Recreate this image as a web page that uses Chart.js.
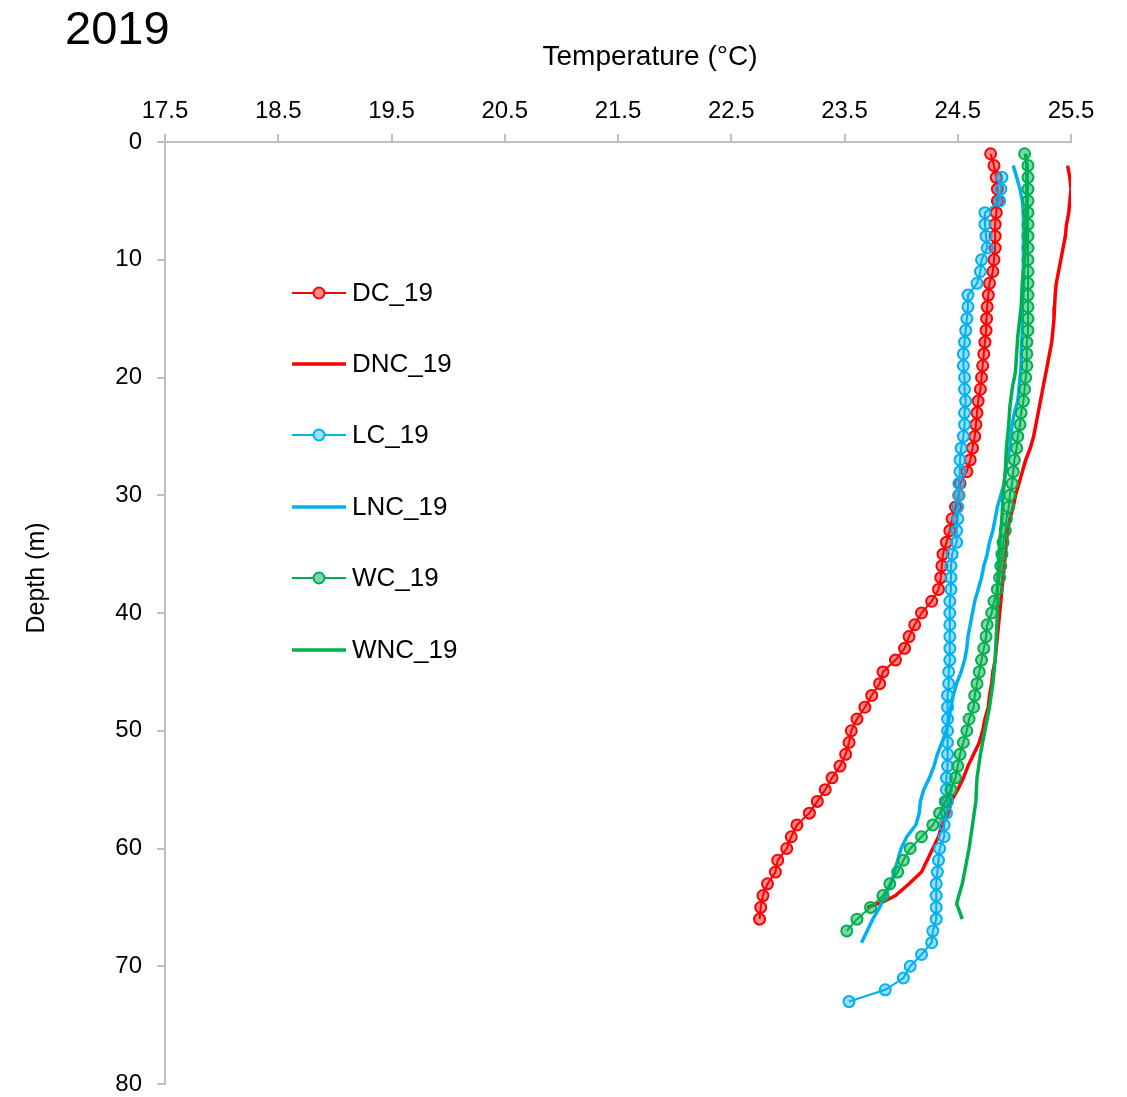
<!DOCTYPE html>
<html>
<head>
<meta charset="utf-8">
<script src="https://cdn.jsdelivr.net/npm/chart.js@4.4.1/dist/chart.umd.min.js"></script>
<style>
    html, body { margin: 0; padding: 0; background: #fff; }
    #wrap { width: 1127px; height: 1097px; }
</style>
</head>
<body>
<div id="wrap"><canvas id="chart-2019" width="1127" height="1097"></canvas></div>
<script>
// tick values
var temp_ticks = [17.5, 18.5, 19.5, 20.5, 21.5, 22.5, 23.5, 24.5, 25.5];
var depth_ticks = [0, 10, 20, 30, 40, 50, 60, 70, 80];
var series_names = ['DC_19', 'DNC_19', 'LC_19', 'LNC_19', 'WC_19', 'WNC_19'];

// DC_19 (markers)
var dc_depth = [1,2,3,4,5,6,7,8,9,10,11,12,13,14,15,16,17,18,19,20,21,22,23,24,25,26,27,28,29,30,31,32,33,34,35,36,37,38,39,40,41,42,43,44,45,46,47,48,49,50,51,52,53,54,55,56,57,58,59,60,61,62,63,64,65,66];
var dc_temp = [24.79,24.82,24.84,24.85,24.85,24.84,24.83,24.83,24.83,24.82,
    24.81,24.78,24.77,24.76,24.755,24.75,24.74,24.73,24.72,24.71,
    24.70,24.68,24.67,24.66,24.65,24.63,24.61,24.58,24.52,24.51,
    24.48,24.45,24.43,24.40,24.37,24.36,24.35,24.33,24.27,24.18,
    24.12,24.07,24.03,23.95,23.84,23.81,23.74,23.68,23.61,23.56,
    23.54,23.51,23.46,23.39,23.33,23.26,23.19,23.08,23.03,22.99,
    22.91,22.89,22.82,22.78,22.76,22.75];

// DNC_19 (line only)
var dnc_depth = [2,3,4,5,6,7,8,9,10,11,12,13,14,15,16,17,18,19,20,21,22,23,24,25,26,27,28,29,30,31,32,33,34,35,36,37,38,39,40,41,42,43,44,45,46,47,48,49,50,51,52,53,54,55,56,57,58,59,60,61,62,63,64,64.5,65];
var dnc_temp = [25.47,25.49,25.50,25.49,25.48,25.46,25.45,25.43,25.41,
    25.39,25.37,25.36,25.355,25.35,25.34,25.33,25.31,25.29,25.27,
    25.25,25.23,25.21,25.19,25.17,25.14,25.10,25.07,25.04,25.01,
    24.99,24.96,24.94,24.93,24.92,24.91,24.90,24.89,24.88,24.87,
    24.86,24.85,24.84,24.83,24.81,24.80,24.78,24.77,24.74,24.72,
    24.69,24.64,24.59,24.55,24.50,24.44,24.42,24.36,24.33,24.28,
    24.23,24.18,24.07,23.95,23.85,23.70];

// LC_19 (markers)
var lc_depth = [3,4,5,6,7,8,9,10,11,12,13,14,15,16,17,18,19,20,21,22,23,24,25,26,27,28,29,30,31,32,33,34,35,36,37,38,39,40,41,42,43,44,45,46,47,48,49,50,51,52,53,54,55,56,57,58,59,60,61,62,63,64,65,66,67,68,69,70,71,72,73];
var lc_temp = [24.89,24.88,24.87,
    24.74,24.74,24.75,24.76,24.71,24.70,24.67,
    24.59,24.59,24.58,24.57,24.56,24.55,24.55,24.56,
    24.56,24.57,24.56,24.56,24.55,24.53,24.52,24.52,24.51,24.51,
    24.50,24.50,24.49,24.49,24.45,24.44,24.44,24.44,24.43,24.43,
    24.43,24.43,24.43,24.43,24.42,24.42,24.41,24.41,24.41,24.41,
    24.41,24.41,24.41,24.40,24.40,24.41,24.40,24.38,24.38,24.34,
    24.33,24.32,24.31,24.31,24.31,24.31,24.28,24.27,24.18,24.08,
    24.02,23.86,23.54];

// LNC_19 (line only)
var lnc_depth = [2,3,4,5,6,8,10,12,14,16,18,19,20,21,22,23,24,25,26,27,28,29,30,31,32,33,34,35,36,37,38,39,40,41,42,43,44,45,46,47,48,49,50,51,52,53,54,55,56,57,58,59,60,61,62,63,64,65,66,67,68];
var lnc_temp = [24.99,25.02,25.05,25.07,25.08,25.08,25.08,25.08,25.07,25.07,
    25.06,25.06,25.05,25.04,25.03,25.00,24.98,24.97,24.96,24.94,
    24.92,24.91,24.88,24.85,24.83,24.81,24.78,24.76,24.73,24.71,
    24.68,24.65,24.63,24.61,24.59,24.58,24.56,24.53,24.49,24.46,
    24.44,24.42,24.40,24.36,24.32,24.29,24.25,24.20,24.17,24.16,
    24.13,24.05,24.00,23.97,23.94,23.91,23.86,23.81,23.75,23.70,
    23.65];

// WC_19 (markers)
var wc_depth = [1,2,3,4,5,6,7,8,9,10,11,12,13,14,15,16,17,18,19,20,21,22,23,24,25,26,27,28,29,30,31,32,33,34,35,36,37,38,39,40,41,42,43,44,45,46,47,48,49,50,51,52,53,54,55,56,57,58,59,60,61,62,63,64,65,66,67];
var wc_temp = [25.09,25.12,25.12,25.12,25.12,25.12,25.12,25.12,25.12,25.12,
    25.12,25.12,25.12,25.12,25.12,25.12,25.11,25.11,25.11,25.10,
    25.09,25.08,25.06,25.05,25.03,25.02,25.00,24.99,24.98,24.96,
    24.95,24.93,24.92,24.90,24.89,24.88,24.87,24.85,24.82,24.80,
    24.76,24.75,24.73,24.71,24.69,24.67,24.65,24.64,24.60,24.58,
    24.55,24.52,24.50,24.48,24.44,24.39,24.34,24.28,24.18,24.08,
    24.02,23.97,23.90,23.84,23.73,23.61,23.52];

// WNC_19 (line only)
var wnc_depth = [1,2,4,6,8,10,11,12,14,16.5,18,19.5,21,22.5,24,26,28,30,32,34,36,38,40,42,44,46,48,50,51,52,54,56,58,60,61,62,63,64,64.7,65.2,66];
var wnc_temp = [25.10,25.11,25.11,25.11,25.10,25.09,25.08,25.07,25.06,25.03,
    25.02,25.01,24.98,24.96,24.95,24.93,24.92,24.90,24.89,24.87,
    24.86,24.85,24.85,24.84,24.83,24.81,24.78,24.74,24.72,24.70,
    24.67,24.66,24.63,24.60,24.58,24.56,24.54,24.51,24.49,24.51,
    24.54];

const FONT = "'Liberation Sans', Arial, sans-serif";

const to_points = (temps, depths) => temps.map((t, i) => ({ x: t, y: depths[i] }));

const make_set = (name, temps, depths, color, fill, markers, order) => {
    return {
        label: name,
        data: to_points(temps, depths),
        showLine: true,
        borderColor: color,
        backgroundColor: fill,
        borderWidth: markers ? 2 : 3.5,
        pointRadius: markers ? 5.5 : 0,
        pointHoverRadius: markers ? 5.5 : 0,
        pointBorderWidth: 2,
        pointBorderColor: color,
        pointBackgroundColor: fill,
        tension: 0,
        order: order
    };
};

// custom legend, axis titles and year label
const overlay_text = {
    id: 'overlayText',
    afterDraw: (chart) => {
        const ctx = chart.ctx;
        ctx.save();
        ctx.fillStyle = '#000';

        ctx.font = '47px ' + FONT;
        ctx.textAlign = 'left';
        ctx.textBaseline = 'alphabetic';
        ctx.fillText('2019', 65, 44);

        ctx.font = '28px ' + FONT;
        ctx.textAlign = 'center';
        ctx.fillText('Temperature (\u00B0C)', 650, 65);

        ctx.save();
        ctx.translate(44, 578);
        ctx.rotate(-Math.PI / 2);
        ctx.font = '25px ' + FONT;
        ctx.textAlign = 'center';
        ctx.fillText('Depth (m)', 0, 0);
        ctx.restore();

        const legend_y = [293, 364, 435, 507, 578, 650];
        chart.data.datasets.forEach((ds, i) => {
            const y = legend_y[i];
            ctx.beginPath();
            ctx.strokeStyle = ds.borderColor;
            ctx.lineWidth = ds.borderWidth;
            ctx.moveTo(292, y);
            ctx.lineTo(346, y);
            ctx.stroke();
            if (ds.pointRadius > 0) {
                ctx.beginPath();
                ctx.arc(319, y, ds.pointRadius, 0, Math.PI * 2);
                ctx.fillStyle = '#fff';
                ctx.fill();
                ctx.fillStyle = ds.pointBackgroundColor;
                ctx.fill();
                ctx.lineWidth = ds.pointBorderWidth;
                ctx.strokeStyle = ds.pointBorderColor;
                ctx.stroke();
            }
            ctx.fillStyle = '#000';
            ctx.font = '26px ' + FONT;
            ctx.textAlign = 'left';
            ctx.textBaseline = 'middle';
            ctx.fillText(ds.label, 352, y + 1);
        });
        ctx.restore();
    }
};

new Chart(document.getElementById('chart-2019'), {
    type: 'scatter',
    data: {
        datasets: [
            make_set(series_names[0], dc_temp, dc_depth, '#FF0000', 'rgba(255,0,0,0.45)', true, 6),
            make_set(series_names[1], dnc_temp, dnc_depth, '#FF0000', 'rgba(255,0,0,0.45)', false, 5),
            make_set(series_names[2], lc_temp, lc_depth, '#00B0F0', 'rgba(0,176,240,0.4)', true, 4),
            make_set(series_names[3], lnc_temp, lnc_depth, '#00B0F0', 'rgba(0,176,240,0.4)', false, 3),
            make_set(series_names[4], wc_temp, wc_depth, '#00B050', 'rgba(0,176,80,0.5)', true, 2),
            make_set(series_names[5], wnc_temp, wnc_depth, '#00B050', 'rgba(0,176,80,0.5)', false, 1)
        ]
    },
    options: {
        responsive: false,
        animation: false,
        layout: {
            padding: { left: 0, top: 0, right: 56, bottom: 13 }
        },
        plugins: {
            legend: { display: false },
            tooltip: { enabled: false },
            title: { display: false }
        },
        scales: {
            x: {
                type: 'linear',
                position: 'top',
                min: 17.5,
                max: 25.5,
                afterBuildTicks: (scale) => {
                    scale.ticks = temp_ticks.map(v => ({ value: v }));
                },
                afterFit: (scale) => {
                    scale.height = 142;
                    scale.paddingLeft = 0;
                    scale.paddingRight = 0;
                },
                ticks: {
                    color: '#000',
                    padding: 8,
                    font: { family: FONT, size: 24 },
                    callback: (v) => v.toFixed(1)
                },
                grid: {
                    drawOnChartArea: false,
                    drawTicks: true,
                    tickLength: 8,
                    color: '#BFBFBF',
                    lineWidth: 2
                },
                border: { display: true, color: '#BFBFBF', width: 2 }
            },
            y: {
                type: 'linear',
                reverse: true,
                min: 0,
                max: 80,
                afterBuildTicks: (scale) => {
                    scale.ticks = depth_ticks.map(v => ({ value: v }));
                },
                afterFit: (scale) => {
                    scale.width = 165;
                    scale.paddingTop = 0;
                    scale.paddingBottom = 0;
                },
                ticks: {
                    color: '#000',
                    padding: 15,
                    font: { family: FONT, size: 24 }
                },
                grid: {
                    drawOnChartArea: false,
                    drawTicks: true,
                    tickLength: 8,
                    color: '#BFBFBF',
                    lineWidth: 2
                },
                border: { display: true, color: '#BFBFBF', width: 2 }
            }
        }
    },
    plugins: [overlay_text]
});
</script>
</body>
</html>
